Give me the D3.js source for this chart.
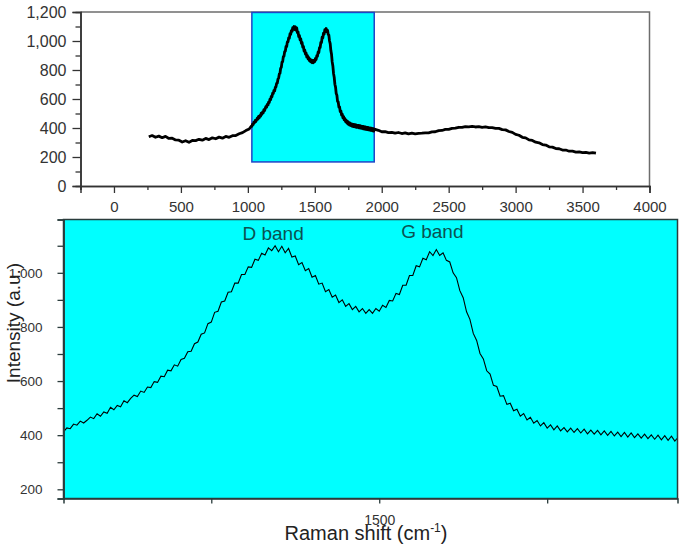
<!DOCTYPE html>
<html>
<head>
<meta charset="utf-8">
<script src="https://cdn.jsdelivr.net/npm/d3@7/dist/d3.min.js"></script>
<style>
  html, body { margin: 0; padding: 0; background: #ffffff; }
  svg { display: block; font-family: "Liberation Sans", Arial, sans-serif; }
</style>
</head>
<body>
<svg id="chart" width="685" height="551"></svg>
<script>
// ---------------- DATA ----------------
const ramanShift = [
  260,285,310,335,360,385,410,435,460,485,510,535,560,585,610,635,660,685,710,735,760,785,810,835,860,885,910,935,960,985,1010,1025,
  1030,1035,1040,1045,1050,1055,1060,1065,1070,1075,1080,1085,1090,1095,1100,1105,1110,1115,1120,1125,1130,1135,1140,1145,1150,1155,1160,1165,1170,1175,
  1180,1185,1190,1195,1200,1205,1210,1215,1220,1225,1230,1235,1240,1245,1250,1255,1260,1265,1270,1275,1280,1285,1290,1295,1300,1305,1310,1315,1320,1325,
  1330,1335,1340,1345,1350,1355,1360,1365,1370,1375,1380,1385,1390,1395,1400,1405,1410,1415,1420,1425,1430,1435,1440,1445,1450,1455,1460,1465,1470,1475,
  1480,1485,1490,1495,1500,1505,1510,1515,1520,1525,1530,1535,1540,1545,1550,1555,1560,1565,1570,1575,1580,1585,1590,1595,1600,1605,1610,1615,1620,1625,
  1630,1635,1640,1645,1650,1655,1660,1665,1670,1675,1680,1685,1690,1695,1700,1705,1710,1715,1720,1725,1730,1735,1740,1745,1750,1755,1760,1765,1770,1775,
  1780,1785,1790,1795,1800,1805,1810,1815,1820,1825,1830,1835,1840,1845,1850,1855,1860,1865,1870,1875,1880,1885,1890,1895,1900,1905,1910,1915,1920,1925,
  1930,1935,1940,1945,
  1975,2000,2025,2050,2075,2100,2125,2150,2175,2200,2225,2250,2275,2300,2325,2350,2375,2400,2425,2450,2475,2500,2525,2550,2575,2600,2625,2650,2675,2700,
  2725,2750,2775,2800,2825,2850,2875,2900,2925,2950,2975,3000,3025,3050,3075,3100,3125,3150,3175,3200,3225,3250,3275,3300,3325,3350,3375,3400,3425,3450,
  3475,3500,3525,3550,3575,3600
];
const intensity = [
  340,348,336,344,333,342,328,330,318,316,303,312,301,314,313,322,316,328,320,332,326,337,330,342,336,347,348,360,368,382,393,412,
  412,427,424,441,437,452,445,455,467,461,479,470,486,481,503,494,510,505,527,520,536,548,543,563,558,578,576,598,595,618,
  616,640,638,660,655,680,684,708,710,738,744,773,778,812,818,854,858,892,896,928,930,962,962,994,994,1022,1020,1050,1046,1072,
  1066,1092,1082,1100,1078,1098,1074,1090,1058,1062,1030,1038,1008,1016,984,990,958,962,930,938,910,918,890,900,876,886,864,876,856,868,
  850,864,850,868,858,880,872,898,896,924,920,954,954,990,990,1026,1022,1054,1048,1078,1064,1086,1064,1074,1046,1040,1000,982,934,908,
  856,828,776,750,702,682,638,626,584,580,544,546,514,518,490,496,470,480,456,466,444,454,434,446,426,438,420,434,416,428,
  412,426,410,424,408,422,405,419,404,418,401,416,399,414,397,411,395,410,393,408,391,405,389,404,387,401,385,400,383,398,
  381,396,378,392,
  384,374,375,368,370,364,369,362,366,359,364,360,363,364,366,366,373,374,382,383,390,391,398,399,405,404,410,408,411,407,
  409,404,407,402,403,398,397,389,387,376,370,356,350,336,332,318,314,302,298,286,282,270,268,258,257,248,248,240,240,234,
  235,230,232,227,230,226
];

// Overview axes
const topXDomain = [-250, 4000];
const topYDomain = [0, 1200];
const topXMajor = [0, 500, 1000, 1500, 2000, 2500, 3000, 3500, 4000];
const topXMinor = [-250, 250, 750, 1250, 1750, 2250, 2750, 3250, 3750];
const topYMajor = [0, 200, 400, 600, 800, 1000, 1200];
const topYMinor = [100, 300, 500, 700, 900, 1100];

// Zoomed region (shaded box in the overview)
const zoomShift = [1030, 1944];
const zoomIntensity = [166, 1197];
const zoomXTicks = [1250, 1500, 1750];
const zoomXLabels = [1500];
const zoomYMajor = [200, 400, 600, 800, 1000];
const zoomYMinor = [300, 500, 700, 900, 1100];

const bandLabels = ["D band", "G band"];
const bandPositions = [1342, 1579];
const bandLabelLevel = [1121, 1127];

// ---------------- DRAW ----------------
const svg = d3.select("#chart");
const data = ramanShift.map((x, i) => ({ x, y: intensity[i] }));

// ---- Overview (top) ----
const T = { left: 80.5, right: 649.5, top: 12, bottom: 186 };
const xTop = d3.scaleLinear().domain(topXDomain).range([T.left, T.right]);
const yTop = d3.scaleLinear().domain(topYDomain).range([T.bottom, T.top]);

const gTop = svg.append("g");

gTop.append("path")
  .attr("d", `M${T.left},${T.top}H${T.right}V${T.bottom}`)
  .attr("fill", "none").attr("stroke", "#6d6d6d").attr("stroke-width", 1.5);

gTop.append("rect")
  .attr("x", xTop(zoomShift[0]))
  .attr("y", yTop(zoomIntensity[1]))
  .attr("width", xTop(zoomShift[1]) - xTop(zoomShift[0]))
  .attr("height", yTop(zoomIntensity[0]) - yTop(zoomIntensity[1]))
  .attr("fill", "#00ffff").attr("stroke", "#1f45c8").attr("stroke-width", 1.5);

gTop.append("path")
  .datum(data)
  .attr("fill", "none").attr("stroke", "#000").attr("stroke-width", 2.8)
  .attr("stroke-linejoin", "round")
  .attr("d", d3.line().x(d => xTop(d.x)).y(d => yTop(d.y)));

function styleAxis(g, color, fontSize) {
  g.select(".domain").attr("stroke", color).attr("stroke-width", 1.5);
  g.selectAll(".tick line").attr("stroke", color).attr("stroke-width", 1.3);
  g.selectAll(".tick text").attr("fill", "#333").style("font-size", fontSize + "px")
    .style("font-family", '"Liberation Sans", Arial, sans-serif');
}

const axTopX = gTop.append("g").attr("transform", `translate(0,${T.bottom})`)
  .call(d3.axisBottom(xTop).tickValues(topXMajor).tickFormat(d3.format("d")).tickSize(7).tickPadding(8));
styleAxis(axTopX, "#333", 15);
const axTopXm = gTop.append("g").attr("transform", `translate(0,${T.bottom})`)
  .call(d3.axisBottom(xTop).tickValues(topXMinor).tickFormat("").tickSize(4));
styleAxis(axTopXm, "#333", 15);

const axTopY = gTop.append("g").attr("transform", `translate(${T.left},0)`)
  .call(d3.axisLeft(yTop).tickValues(topYMajor).tickFormat(d3.format(",")).tickSize(8).tickPadding(6));
styleAxis(axTopY, "#333", 16);
const axTopYm = gTop.append("g").attr("transform", `translate(${T.left},0)`)
  .call(d3.axisLeft(yTop).tickValues(topYMinor).tickFormat("").tickSize(5));
styleAxis(axTopYm, "#333", 16);

// ---- Zoomed (bottom) ----
const B = { left: 63.5, right: 677.5, top: 219.5, bottom: 498.5 };
const xB = d3.scaleLinear().domain(zoomShift).range([B.left, B.right]);
const yB = d3.scaleLinear().domain(zoomIntensity).range([B.bottom, B.top]);

const gB = svg.append("g");
gB.append("rect")
  .attr("x", B.left).attr("y", B.top)
  .attr("width", B.right - B.left).attr("height", B.bottom - B.top)
  .attr("fill", "#00ffff");

svg.append("clipPath").attr("id", "clipB").append("rect")
  .attr("x", B.left).attr("y", B.top)
  .attr("width", B.right - B.left).attr("height", B.bottom - B.top);

gB.append("path")
  .datum(data.filter(d => d.x >= zoomShift[0] - 10 && d.x <= zoomShift[1] + 10))
  .attr("clip-path", "url(#clipB)")
  .attr("fill", "none").attr("stroke", "#000").attr("stroke-width", 1.1)
  .attr("d", d3.line().x(d => xB(d.x)).y(d => yB(d.y)));

gB.append("rect")
  .attr("x", B.left).attr("y", B.top)
  .attr("width", B.right - B.left).attr("height", B.bottom - B.top)
  .attr("fill", "none").attr("stroke", "#2a3c3c").attr("stroke-width", 1.5);

const axBX = gB.append("g").attr("transform", `translate(0,${B.bottom})`)
  .call(d3.axisBottom(xB).tickValues(zoomXTicks)
    .tickFormat(d => zoomXLabels.includes(d) ? String(d) : "").tickSize(5).tickPadding(12));
styleAxis(axBX, "#2a3c3c", 14);

const axBY = gB.append("g").attr("transform", `translate(${B.left},0)`)
  .call(d3.axisLeft(yB).tickValues(zoomYMajor).tickFormat(d3.format(",")).tickSize(6).tickPadding(15));
styleAxis(axBY, "#2a3c3c", 13.5);
const axBYm = gB.append("g").attr("transform", `translate(${B.left},0)`)
  .call(d3.axisLeft(yB).tickValues(zoomYMinor).tickFormat("").tickSize(6));
styleAxis(axBYm, "#2a3c3c", 13.5);

gB.selectAll("text.band").data(bandLabels).join("text")
  .attr("class", "band")
  .attr("x", (d, i) => xB(bandPositions[i]))
  .attr("y", (d, i) => yB(bandLabelLevel[i]))
  .attr("text-anchor", "middle")
  .attr("fill", "#0b5252")
  .style("font-size", "19px")
  .text(d => d);

svg.append("text")
  .attr("transform", "translate(20,323) rotate(-90)")
  .attr("text-anchor", "middle")
  .attr("fill", "#222")
  .style("font-size", "19px")
  .text("Intensity (a.u.)");

const xt = svg.append("text")
  .attr("x", 366).attr("y", 540)
  .attr("text-anchor", "middle")
  .attr("fill", "#222")
  .style("font-size", "20px");
xt.append("tspan").text("Raman shift (cm");
xt.append("tspan").attr("dy", -8).style("font-size", "12px").text("-1");
xt.append("tspan").attr("dy", 8).text(")");
</script>
</body>
</html>
